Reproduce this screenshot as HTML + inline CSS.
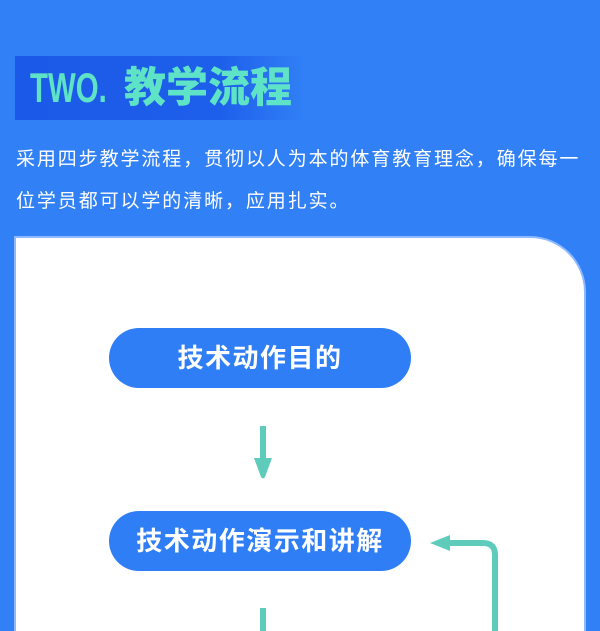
<!DOCTYPE html>
<html><head><meta charset="utf-8"><style>
html,body{margin:0;width:600px;height:631px;overflow:hidden}
body{background:#3180f6;font-family:"Liberation Sans","Noto Sans CJK SC",sans-serif;position:relative}
.tb{position:absolute;left:15px;top:56px;width:290px;height:64px;background:linear-gradient(90deg,#1b5ae8 0%,#1d5eea 70%,rgba(40,110,245,0) 100%)}
.tt{position:absolute;left:30px;top:60px;font-size:42px;font-weight:900;color:#5fe3c6;line-height:56px;white-space:nowrap}
.two{display:inline-block;transform:scaleX(0.7);transform-origin:left center;width:94px;font-family:"Liberation Sans Narrow","Liberation Sans",sans-serif}
.p{position:absolute;left:16px;top:139px;width:584px;color:#fff;font-size:19px;line-height:42px;letter-spacing:1.9px;white-space:nowrap;overflow:hidden}
.panel{position:absolute;left:14px;top:236px;width:568px;height:393px;background:#fff;border:2px solid #8cb9ff;border-bottom:0;border-top-right-radius:56px}
.pill{position:absolute;left:109px;width:302px;height:60px;border-radius:30px;background:#2f7ef5;color:#fff;font-size:26px;font-weight:bold;text-align:center;line-height:60px;letter-spacing:1.5px}
</style></head><body>
<div class="tb"></div>
<div class="tt"><span class="two">TWO.</span>教学流程</div>
<div class="p">采用四步教学流程，贯彻以人为本的体育教育理念，确保每一<br>位学员都可以学的清晰，应用扎实。</div>
<div class="panel"></div>
<div class="pill" style="top:328px">技术动作目的</div>
<div class="pill" style="top:511px">技术动作演示和讲解</div>
<svg style="position:absolute;left:0;top:0" width="600" height="631">
<g fill="#5ecbbb" stroke="none">
<rect x="260" y="426" width="6" height="34"/>
<path d="M254 458 L272 458 L265 477 Q263 480 261 477 Z"/>
<rect x="260" y="608" width="6" height="23"/>
<path d="M430 543 L450 535 L450 551 Z"/>
</g>
<path d="M448 543 L483 543 Q495 543 495 555 L495 631" fill="none" stroke="#5ecbbb" stroke-width="6"/>
</svg>
</body></html>
